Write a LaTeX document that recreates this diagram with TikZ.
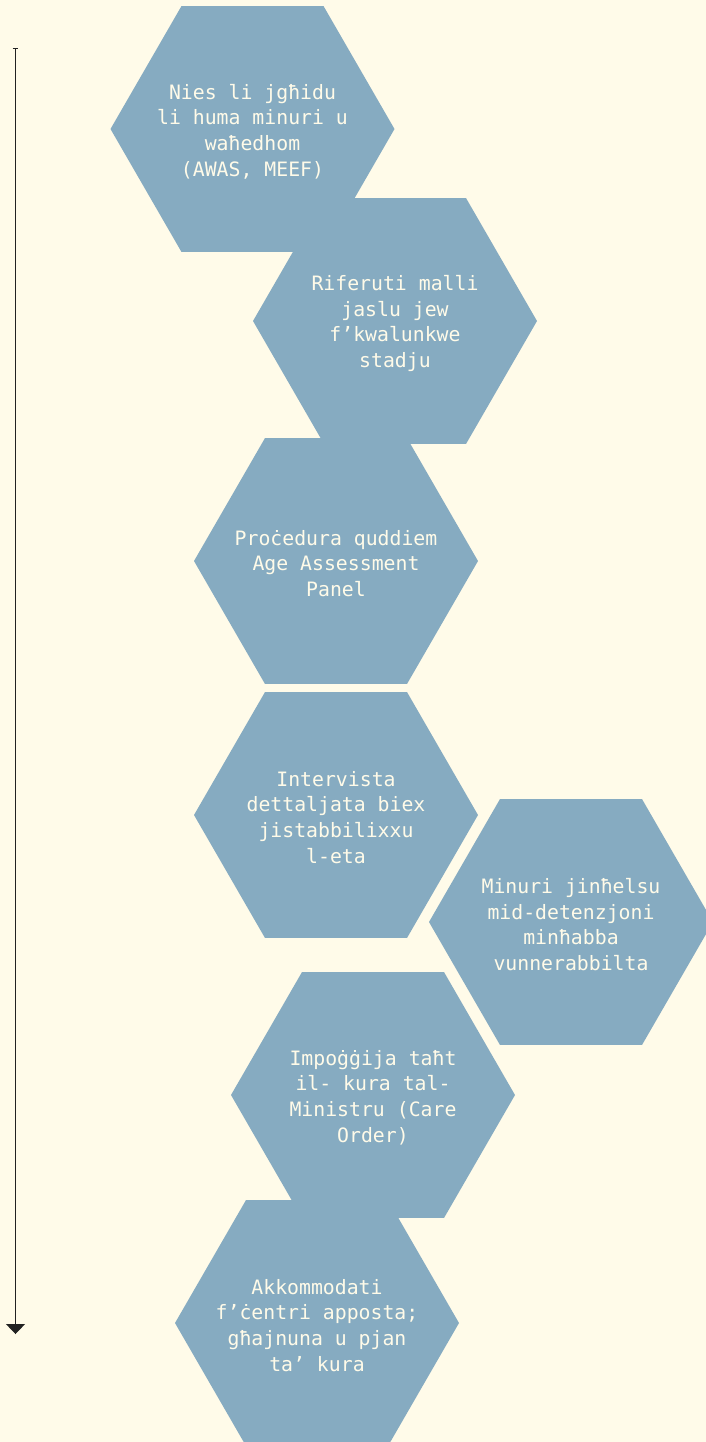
\documentclass[tikz,border=0pt]{standalone}
\usepackage{fontspec}
\newfontfamily\monofont{DejaVu Sans Mono}
\usetikzlibrary{shapes.geometric,arrows.meta}
\definecolor{bgcream}{HTML}{FFFBE9}
\definecolor{hexblue}{HTML}{86ABC1}
\definecolor{arrowgray}{HTML}{222222}
\tikzset{
  hexbox/.style={regular polygon, regular polygon sides=6, minimum size=142pt,
    inner sep=0pt, outer sep=0pt, fill=hexblue, draw=none},
  hextext/.style={text=bgcream, align=center, inner sep=0pt, yshift=-1.2pt,
    font=\monofont\fontsize{9.9}{12.85}\selectfont},
  timeline/.style={draw=arrowgray, line width=0.55pt,
    {Bar[width=2.8pt,line width=0.5pt]}-{Triangle[width=9.5pt,length=5pt]}}
}
\begin{document}
\begin{tikzpicture}[x=0.5pt,y=-0.5pt]
\path[fill=bgcream] (0,0) rectangle (706,1442);
\useasboundingbox (0,0) rectangle (706,1442);
\begin{scope}
\clip (0,0) rectangle (706,1442);
\node[hexbox] (h1) at (252.5,129) {};
\node[hexbox] (h2) at (395,321) {};
\node[hexbox] (h3) at (336,561) {};
\node[hexbox] (h4) at (336,815) {};
\node[hexbox] (h5) at (571,922) {};
\node[hexbox] (h6) at (373,1095) {};
\node[hexbox] (h7) at (317,1323) {};
\end{scope}
\node[hextext] (t1) at (h1.center) {Nies li jgħidu\\li huma minuri u\\waħedhom\\(AWAS, MEEF)};
\node[hextext] (t2) at (h2.center) {Riferuti malli\\jaslu jew\\f’kwalunkwe\\stadju};
\node[hextext] (t3) at (h3.center) {Proċedura quddiem\\Age Assessment\\Panel};
\node[hextext] (t4) at (h4.center) {Intervista\\dettaljata biex\\jistabbilixxu\\l-eta};
\node[hextext] (t5) at (h5.center) {Minuri jinħelsu\\mid-detenzjoni\\minħabba\\vunnerabbilta};
\node[hextext] (t6) at (h6.center) {Impoġġija taħt\\il- kura tal-\\Ministru (Care\\Order)};
\node[hextext] (t7) at (h7.center) {Akkommodati\\f’ċentri apposta;\\għajnuna u pjan\\ta’ kura};
\coordinate (tstart) at (15.5,48);
\coordinate (tend) at (15.5,1334);
\draw[timeline] (tstart) -- (tend);
\end{tikzpicture}
\end{document}
